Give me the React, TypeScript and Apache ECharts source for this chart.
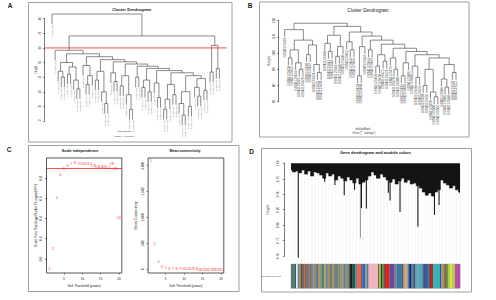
import React, { useEffect, useRef } from "react";
import * as echarts from "echarts";

const FONT = "'Liberation Sans', Arial, Helvetica, sans-serif";

// ---------------- Panel A : sample clustering ----------------
const heightTicksA = [10, 20, 30, 40, 50, 60, 70, 80];
const cutHeightA = 60;
const rootHeightA = 83.2;
const upperMergeA = 68.2;
const mainRootA = 58.4;
const stairHeightsA = [56, 54, 52, 50.5, 49, 47.5, 46, 44.5, 43, 41];
const sideClustersA: any[] = [
  [50, [44, 0, [40, 0, 0]], [47, [42, 0, 0], [38, 0, [32, 0, 0]]]],
  [48, 0, [41, [35, 0, 0], 0]],
  [44, [38, 0, 0], [30, 0, [22, 0, 0]]],
  [43, 0, [37, 0, 0]],
  [41, [34, 0, 0], [28, 0, [18, 0, 0]]],
  [40, 0, 0],
  [38, [33, 0, 0], [30, 0, 0]],
  [36, 0, [26, 0, 0]],
  [35, [25, [18, 0, 0], 0], [28, 0, 0]],
  [30, [22, 0, [14, 0, 0]], [20, 0, 0]],
];
const tailClusterA: any = [39, [33, 0, [27, 0, 0]], [31, 0, 0]];
const rightClusterA: any = [61.8, [43.5, 0, 0], [45.8, 0, 0]];
const sampleIdBaseA = 1843207;

// ---------------- Panel B : sample clustering (after removal) ----------------
const heightTicksB = [70, 80, 90, 100, 110, 120];
const rootHeightB = 118.4;
const leftClusterB: any = [114.5, 0, [108, [102, [97, 0, 0], [94, 0, [90, 0, 0]]], [105, [99, 0, 0], [93, 0, [88, 0, 0]]]]];
const stairHeightsB = [116.5, 113, 110.5, 108, 105.5, 103, 101, 99];
const sideClustersB: any[] = [
  [111, [106, 0, [101, 0, 0]], [104, [98, 0, 0], 0]],
  [107, 0, [102, 0, 0]],
  [104, [86, 0, 0], 0],
  [102, 0, 0],
  [99, [92, 0, 0], [95, 0, 0]],
  [97, 0, [90, 0, 0]],
  [94, [86, 0, 0], 0],
  [92, 0, [85, 0, 0]],
];
const tailClusterB: any = [97, [90, [80, 0, 0], [76, 0, [73, 0, 0]]], [93, [84, 0, [79, 0, 0]], [88, 0, 0]]];
const sampleIdBaseB = 3129418;

// ---------------- Panel C : soft threshold ----------------
const powers = [1, 2, 3, 4, 5, 6, 7, 8, 9, 10, 11, 12, 13, 14, 15, 16, 17, 18, 19, 20];
const scaleFreeFit = [-0.1, 0.1, 0.61, 0.84, 0.9, 0.93, 0.95, 0.96, 0.95, 0.95, 0.95, 0.95, 0.93, 0.92, 0.92, 0.92, 0.91, 0.95, 0.9, 0.41];
const fitThreshold = 0.9;
const meanConnectivity = [2100, 500, 150, 58, 25, 12, 6.5, 3.8, 2.3, 1.5, 1, 0.7, 0.5, 0.36, 0.27, 0.2, 0.15, 0.11, 0.09, 0.07];
const powerTicks = [5, 10, 15, 20];
const fitTicks = [0, 0.2, 0.4, 0.6, 0.8];
const connectivityTicks = [0, 500, 1000, 1500, 2000];

// ---------------- Panel D : gene dendrogram and modules ----------------
const geneBandDepth = [
  0.978, 0.972, 0.975, 0.969, 0.978, 0.965, 0.975, 0.959, 0.972, 0.969, 0.962, 0.952, 0.969, 0.959, 0.965,
  0.946, 0.959, 0.952, 0.943, 0.956, 0.946, 0.936, 0.952, 0.933, 0.939, 0.946, 0.959, 0.972, 0.962, 0.952,
  0.965, 0.956, 0.946, 0.939, 0.949, 0.933, 0.943, 0.952, 0.939, 0.946, 0.933, 0.936, 0.927, 0.92, 0.907,
  0.897, 0.904, 0.894, 0.907, 0.914, 0.946, 0.936, 0.93, 0.92, 0.927, 0.914, 0.907,
];
const geneSpikes = [
  [0.043, 0.694], [0.199, 0.94], [0.26, 0.93], [0.315, 0.897], [0.376, 0.914], [0.417, 0.855],
  [0.446, 0.854], [0.507, 0.951], [0.576, 0.905], [0.586, 0.88], [0.645, 0.842], [0.751, 0.795],
  [0.849, 0.833], [0.876, 0.865], [0.997, 0.905],
];
const geneFaintSpikes = [[0.411, 0.759]];
const guideCount = 50;
const moduleColors = [
  "#5a7a78", "#3a5a5a", "#d8eef0", "#708090", "#8a8a5a", "#6a4a3a", "#7a6a6a", "#a05a4a", "#6a7a5a", "#7a7090",
  "#8a6a5a", "#6a8aa0", "#9a8a6a", "#7a8a7a", "#5a6a8a", "#b09060", "#7a9a7a", "#6a7a6a", "#90b070", "#7a7a9a",
  "#a0906a", "#6a6a6a", "#8aa070", "#9a7a5a", "#5a7a9a", "#808060", "#6a8a6a", "#a08a8a", "#90a060", "#7a6a8a",
  "#6a9a8a", "#8a8a7a", "#5a5a5a", "#101010", "#2a5a58", "#608a80", "#e06a60", "#505050", "#3a60b0", "#80a090",
  "#4a6a8a", "#f0b4c0", "#4a4a3a", "#a8c040", "#2a3a2a", "#6a8a3a", "#505a60", "#d02a20", "#6a4a98", "#7a7a8a",
  "#3a7aa0", "#4a5a6a", "#c8a880", "#4a7ab0", "#1a2a5a", "#5a8ab0", "#3a4a6a", "#6a9ab0", "#5aa8b8", "#4a6a9a",
  "#2a2a5a", "#3060b0", "#5a5a5a", "#a83030", "#40b0b0", "#2050c0", "#a89858", "#6a6a3a", "#8a7048", "#60a040",
  "#b0c840", "#e0e050", "#90c040", "#d0c040", "#b050a8",
];
const moduleSizes = [
  12, 3, 5, 5, 5, 5, 5, 5, 5, 5,
  7, 5, 5, 5, 5, 5, 5, 8, 5, 5,
  7, 5, 5, 5, 5, 5, 5, 5, 5, 5,
  5, 5, 5, 5, 10, 5, 13, 4, 8, 6,
  4, 29, 3, 5, 3, 5, 4, 14, 15, 6,
  15, 6, 12, 5, 7, 5, 5, 7, 15, 6,
  4, 8, 5, 9, 21, 4, 7, 3, 7, 4,
  6, 6, 4, 4, 15,
];

// ---------------- layout (pixels) ----------------
const LAY = {
  A: { left: 44.7, top: 18.7, width: 182, height: 102.3 },
  B: { left: 278.7, top: 20.7, width: 183.3, height: 81 },
  C1: { left: 46.5, top: 158, width: 75.3, height: 115 },
  C2: { left: 148.1, top: 158, width: 75.7, height: 115 },
  D: { left: 291, top: 163.3, width: 169, height: 92.7 },
  Bar: { left: 291, top: 264, width: 169, height: 24.3 },
};
const INSET_A = 7.3;
const INSET_B = 6;

function buildStair(heights: number[], sides: any[], tail: any) {
  let t = tail;
  for (let i = heights.length - 1; i >= 0; i--) t = [heights[i], sides[i], t];
  return t;
}

const treeA = [rootHeightA, 0, [upperMergeA, [mainRootA, 0, buildStair(stairHeightsA, sideClustersA, tailClusterA)], rightClusterA]];
const treeB = [rootHeightB, leftClusterB, buildStair(stairHeightsB, sideClustersB, tailClusterB)];

function layoutDendrogram(tree: any, hangFrac: number) {
  const heights: number[] = [];
  const collect = (t: any) => {
    if (Array.isArray(t)) {
      heights.push(t[0]);
      collect(t[1]);
      collect(t[2]);
    }
  };
  collect(tree);
  const hang = hangFrac * (Math.max(...heights) - Math.min(...heights));
  const links: number[][] = [];
  const tips: number[][] = [];
  let count = 0;
  const walk = (t: any): any => {
    if (!Array.isArray(t)) {
      count += 1;
      return { x: count, h: 0, leaf: true };
    }
    const h = t[0];
    const L = walk(t[1]);
    const R = walk(t[2]);
    const ly = L.leaf ? h - hang : L.h;
    const ry = R.leaf ? h - hang : R.h;
    if (L.leaf) tips.push([L.x, ly]);
    if (R.leaf) tips.push([R.x, ry]);
    links.push([(L.x + R.x) / 2, h, L.x, ly, R.x, ry]);
    return { x: (L.x + R.x) / 2, h, leaf: false };
  };
  walk(tree);
  tips.sort((a, b) => a[0] - b[0]);
  return { links, tips, n: count };
}

function xRange(n: number, widthPx: number, insetPx: number) {
  const s = (widthPx - 2 * insetPx) / (n - 1);
  const pad = insetPx / s;
  return { min: 1 - pad, max: n + pad };
}

function linkSeries(links: number[][], axis: number, color: string, lw: number) {
  return {
    type: "custom",
    xAxisIndex: axis,
    yAxisIndex: axis,
    clip: false,
    silent: true,
    data: links,
    renderItem: (_p: any, api: any) => {
      const h = api.value(1);
      const lx = api.value(2), ly = api.value(3), rx = api.value(4), ry = api.value(5);
      return {
        type: "polyline",
        shape: { points: [api.coord([lx, ly]), api.coord([lx, h]), api.coord([rx, h]), api.coord([rx, ry])] },
        style: { stroke: color, lineWidth: lw, fill: "none" },
      };
    },
  };
}

function tipSeries(tips: number[][], labels: string[], axis: number, fontSize: number, color: string) {
  return {
    type: "custom",
    xAxisIndex: axis,
    yAxisIndex: axis,
    clip: false,
    silent: true,
    data: tips,
    renderItem: (params: any, api: any) => {
      const pt = api.coord([api.value(0), api.value(1)]);
      return {
        type: "text",
        x: pt[0],
        y: pt[1] + 0.8,
        rotation: Math.PI / 2,
        style: {
          text: labels[params.dataIndex],
          fontSize,
          fontFamily: FONT,
          fill: color,
          align: "right",
          verticalAlign: "middle",
        },
      };
    },
  };
}

function txt(text: string, x: number, y: number, fontSize: number, opts: any = {}) {
  return {
    type: "text",
    x,
    y,
    silent: true,
    style: {
      text,
      fontSize,
      fontFamily: FONT,
      fill: opts.fill || "#111",
      fontWeight: opts.bold ? "bold" : "normal",
      align: opts.align || "center",
      verticalAlign: "middle",
    },
  };
}

function frame(x: number, y: number, w: number, h: number) {
  return {
    type: "rect",
    silent: true,
    z: -10,
    shape: { x, y, width: w, height: h },
    style: { fill: "none", stroke: "#a0a0a0", lineWidth: 1 },
  };
}

function spikeSeries(data: number[][], color: string) {
  return {
    type: "custom",
    xAxisIndex: 4,
    yAxisIndex: 4,
    clip: false,
    silent: true,
    z: 3,
    data,
    renderItem: (_p: any, api: any) => {
      const a = api.coord([api.value(0), 0.99]);
      const b = api.coord([api.value(0), api.value(1)]);
      return {
        type: "line",
        shape: { x1: a[0], y1: a[1], x2: b[0], y2: b[1] },
        style: { stroke: color, lineWidth: 1.1 },
      };
    },
  };
}

function buildOption() {
  const dA = layoutDendrogram(treeA, 0.1);
  const dB = layoutDendrogram(treeB, 0.1);
  const rA = xRange(dA.n, LAY.A.width, INSET_A);
  const rB = xRange(dB.n, LAY.B.width, INSET_B);
  const labelsA = dA.tips.map((_, i) => "GSM" + (sampleIdBaseA + i * 3));
  const labelsB = dB.tips.map((_, i) => "GSM" + (sampleIdBaseB + i * 2));

  const bandStep = 1 / (geneBandDepth.length - 1);
  const bandData = geneBandDepth.map((d, i) => [i * bandStep, d]);
  const guideData = Array.from({ length: guideCount }, (_, i) => [i / (guideCount - 1), 0.985]);
  const totalSize = moduleSizes.reduce((a, b) => a + b, 0);
  let acc = 0;
  const barData = moduleSizes.map((s) => {
    const seg = [acc, acc + s];
    acc += s;
    return seg;
  });
  const gapToBar = LAY.Bar.top - (LAY.D.top + LAY.D.height);

  const tickStyle = { show: true, length: 1.5, lineStyle: { color: "#222", width: 0.6 } };
  const axisLineStyle = { show: true, onZero: false, lineStyle: { color: "#222", width: 0.6 } };

  const hiddenX = (min: number, max: number, gridIndex: number) => ({
    type: "value",
    gridIndex,
    min,
    max,
    show: false,
    axisLine: { onZero: false },
  });

  const cX = (gridIndex: number) => ({
    type: "value",
    gridIndex,
    min: 0.24,
    max: 20.76,
    axisLine: { show: false, onZero: false },
    axisTick: { ...tickStyle, customValues: powerTicks },
    axisLabel: { customValues: powerTicks, fontSize: 3.3, margin: 4, color: "#222", fontFamily: FONT },
    splitLine: { show: false },
    name: "Soft Threshold (power)",
    nameLocation: "middle",
    nameGap: 11.5,
    nameTextStyle: { fontSize: 3.3, color: "#222", fontFamily: FONT },
  });

  return {
    animation: false,
    backgroundColor: "#ffffff",
    textStyle: { fontFamily: FONT },
    grid: [
      { ...LAY.A, outerBoundsMode: "none" },
      { ...LAY.B, outerBoundsMode: "none" },
      { ...LAY.C1, show: true, borderColor: "#111", borderWidth: 0.7, outerBoundsMode: "none" },
      { ...LAY.C2, show: true, borderColor: "#111", borderWidth: 0.7, outerBoundsMode: "none" },
      { ...LAY.D, outerBoundsMode: "none" },
      { ...LAY.Bar, show: true, borderColor: "#999", borderWidth: 0.5, outerBoundsMode: "none" },
    ],
    xAxis: [
      hiddenX(rA.min, rA.max, 0),
      hiddenX(rB.min, rB.max, 1),
      cX(2),
      cX(3),
      hiddenX(0, 1, 4),
      hiddenX(0, totalSize, 5),
    ],
    yAxis: [
      {
        type: "value",
        gridIndex: 0,
        min: heightTicksA[0],
        max: heightTicksA[heightTicksA.length - 1],
        interval: 10,
        axisLine: axisLineStyle,
        axisTick: tickStyle,
        axisLabel: { rotate: 90, fontSize: 2.6, margin: 2.5, color: "#333" },
        splitLine: { show: false },
        name: "Height",
        nameLocation: "middle",
        nameGap: 6.5,
        nameTextStyle: { fontSize: 2.6, color: "#333" },
      },
      {
        type: "value",
        gridIndex: 1,
        min: heightTicksB[0],
        max: heightTicksB[heightTicksB.length - 1],
        interval: 10,
        axisLine: axisLineStyle,
        axisTick: tickStyle,
        axisLabel: { rotate: 90, fontSize: 3.3, margin: 3.5, color: "#333" },
        splitLine: { show: false },
        name: "Height",
        nameLocation: "middle",
        nameGap: 8.3,
        nameTextStyle: { fontSize: 3.3, color: "#333" },
      },
      {
        type: "value",
        gridIndex: 2,
        min: -0.14,
        max: 1.0,
        axisLine: { show: false, onZero: false },
        axisTick: { ...tickStyle, customValues: fitTicks },
        axisLabel: { customValues: fitTicks, rotate: 90, fontSize: 3.3, margin: 4.5, color: "#222", formatter: (v: number) => v.toFixed(1) },
        splitLine: { show: false },
        name: "Scale Free Topology Model Fit,signed R^2",
        nameLocation: "middle",
        nameGap: 9.5,
        nameTextStyle: { fontSize: 3.4, color: "#222" },
      },
      {
        type: "value",
        gridIndex: 3,
        min: -77,
        max: 2149,
        axisLine: { show: false, onZero: false },
        axisTick: { ...tickStyle, customValues: connectivityTicks },
        axisLabel: { customValues: connectivityTicks, rotate: 90, fontSize: 3.3, margin: 4, color: "#222" },
        splitLine: { show: false },
        name: "Mean Connectivity",
        nameLocation: "middle",
        nameGap: 10.5,
        nameTextStyle: { fontSize: 3.4, color: "#222" },
      },
      {
        type: "value",
        gridIndex: 4,
        min: 0.7,
        max: 1.0,
        interval: 0.05,
        offset: 6.7,
        axisLine: axisLineStyle,
        axisTick: tickStyle,
        axisLabel: { rotate: 90, fontSize: 3, margin: 5.5, color: "#333", formatter: (v: number) => v.toFixed(2) },
        splitLine: { show: false },
        name: "Height",
        nameLocation: "middle",
        nameGap: 14.5,
        nameTextStyle: { fontSize: 3.3, color: "#333" },
      },
      { type: "value", gridIndex: 5, min: 0, max: 1, show: false },
    ],
    series: [
      linkSeries(dA.links, 0, "#3c3c3c", 0.6),
      tipSeries(dA.tips, labelsA, 0, 1.9, "#666"),
      {
        type: "custom",
        xAxisIndex: 0,
        yAxisIndex: 0,
        clip: false,
        silent: true,
        data: [[1, cutHeightA]],
        renderItem: (params: any, api: any) => {
          const y = api.coord([api.value(0), api.value(1)])[1];
          const cs = params.coordSys;
          return {
            type: "line",
            shape: { x1: cs.x, y1: y, x2: cs.x + cs.width, y2: y },
            style: { stroke: "#ff2020", lineWidth: 0.8 },
          };
        },
      },
      linkSeries(dB.links, 1, "#3c3c3c", 0.6),
      tipSeries(dB.tips, labelsB, 1, 3.2, "#555"),
      {
        type: "scatter",
        xAxisIndex: 2,
        yAxisIndex: 2,
        silent: true,
        symbolSize: 1,
        itemStyle: { color: "rgba(0,0,0,0)" },
        data: powers.map((p, i) => [p, scaleFreeFit[i]]),
        label: {
          show: true,
          position: "inside",
          formatter: (p: any) => String(p.value[0]),
          color: "#ff0000",
          fontSize: 4,
        },
        markLine: {
          silent: true,
          symbol: ["none", "none"],
          label: { show: false },
          lineStyle: { color: "#ff0000", type: "solid", width: 0.7 },
          data: [{ yAxis: fitThreshold }],
        },
      },
      {
        type: "scatter",
        xAxisIndex: 3,
        yAxisIndex: 3,
        silent: true,
        symbolSize: 1,
        itemStyle: { color: "rgba(0,0,0,0)" },
        data: powers.map((p, i) => [p, meanConnectivity[i]]),
        label: {
          show: true,
          position: "inside",
          formatter: (p: any) => String(p.value[0]),
          color: "#ff0000",
          fontSize: 4,
        },
      },
      {
        type: "custom",
        xAxisIndex: 4,
        yAxisIndex: 4,
        clip: false,
        silent: true,
        z: 1,
        data: guideData,
        renderItem: (params: any, api: any) => {
          const p = api.coord([api.value(0), api.value(1)]);
          const cs = params.coordSys;
          return {
            type: "line",
            shape: { x1: p[0], y1: p[1], x2: p[0], y2: cs.y + cs.height + gapToBar },
            style: { stroke: "#bcbcbc", lineWidth: 0.5, lineDash: [0.6, 1.4] },
          };
        },
      },
      spikeSeries(geneFaintSpikes, "#9a9a9a"),
      {
        type: "line",
        xAxisIndex: 4,
        yAxisIndex: 4,
        silent: true,
        z: 4,
        step: "middle",
        symbol: "none",
        data: bandData,
        lineStyle: { color: "#141414", width: 0.6 },
        areaStyle: { color: "#141414", opacity: 1, origin: "end" },
      },
      spikeSeries(geneSpikes, "#1a1a1a"),
      {
        type: "custom",
        xAxisIndex: 5,
        yAxisIndex: 5,
        clip: false,
        silent: true,
        data: barData,
        renderItem: (params: any, api: any) => {
          const a = api.coord([api.value(0), 1]);
          const b = api.coord([api.value(1), 0]);
          return {
            type: "rect",
            shape: { x: a[0], y: a[1], width: b[0] - a[0] + 0.2, height: b[1] - a[1] },
            style: { fill: moduleColors[params.dataIndex] },
          };
        },
      },
    ],
    graphic: [
      frame(28.5, 2.5, 203.5, 139.5),
      frame(259.5, 2, 209.5, 135),
      frame(28.5, 145.5, 210.5, 146),
      frame(261.5, 148.5, 210, 143.5),
      txt("A", 10, 5.5, 6.5, { bold: true, fill: "#222" }),
      txt("B", 250, 5.5, 6.5, { bold: true, fill: "#222" }),
      txt("C", 9, 149, 6.5, { bold: true, fill: "#222" }),
      txt("D", 251.5, 151, 6.5, { bold: true, fill: "#222" }),
      txt("Cluster Dendrogram", 131.7, 9.3, 4, { bold: true }),
      txt("Cluster Dendrogram", 368, 10.7, 4.6, { fill: "#222" }),
      txt("Scale independence", 80, 151.2, 3.8, { bold: true }),
      txt("Mean connectivity", 185, 151.2, 3.6, { bold: true }),
      txt("Gene dendrogram and module colors", 375.5, 152.3, 4, { bold: true }),
      txt("dist(datExpr)", 124.5, 131.3, 2.4, { fill: "#333" }),
      txt('hclust (*, "average")', 124.5, 135.8, 2.3, { fill: "#333" }),
      txt("dist(datExpr)", 363, 129.3, 2.7, { fill: "#333" }),
      txt('hclust (*, "average")', 364, 133.3, 2.6, { fill: "#333" }),
      txt("Dynamic Tree Cut", 281, 276.7, 2.4, { fill: "#333", align: "right" }),
    ],
  };
}

export default function App() {
  const ref = useRef<HTMLDivElement>(null);
  useEffect(() => {
    document.body.style.margin = "0";
    if (!ref.current) return;
    const chart = echarts.init(ref.current, null, { renderer: "svg" });
    chart.setOption(buildOption() as any);
    return () => chart.dispose();
  }, []);
  return (
    <div
      ref={ref}
      style={{ position: "absolute", left: 0, top: 0, width: 496, height: 300, background: "#fff" }}
    />
  );
}
